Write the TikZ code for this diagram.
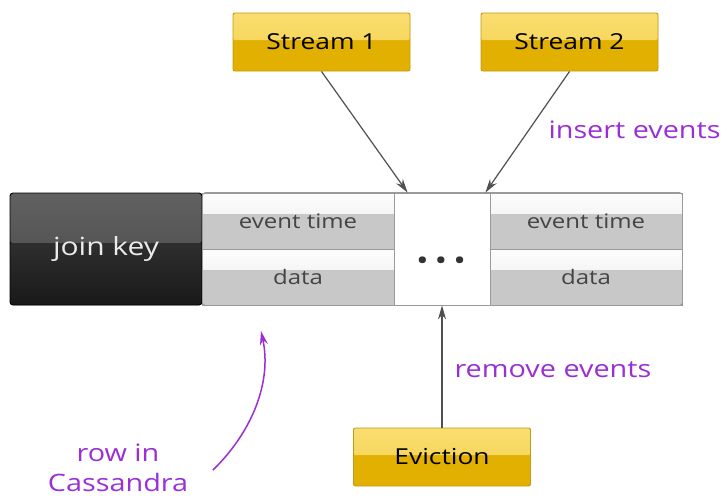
\documentclass[tikz,border=0pt]{standalone}
\usepackage{fontspec}
\setmainfont[FakeStretch=1.2]{Open Sans}
\usetikzlibrary{arrows.meta}
\definecolor{ytop}{HTML}{F9DD70}
\definecolor{ymid}{HTML}{F3D04A}
\definecolor{ybot}{HTML}{E1B000}
\definecolor{yedge}{HTML}{C39A12}
\definecolor{purp}{HTML}{9A2FD6}
\definecolor{arrowgray}{HTML}{505050}
\definecolor{cellgray}{HTML}{C8C8C8}
\definecolor{celledge}{HTML}{9A9A9A}
\definecolor{celltext}{HTML}{444444}
\begin{document}
\begin{tikzpicture}[x=1pt,y=-1pt,
  ybox/.style={draw=yedge, line width=0.9pt, rounded corners=2pt,
    minimum width=177pt, minimum height=58pt, inner sep=0pt, fill=ybot,
    font=\fontsize{22}{24}\selectfont,
    path picture={\shade[top color=ytop, bottom color=ymid]
      (path picture bounding box.north west) rectangle ([yshift=2pt]path picture bounding box.east);}},
  cell/.style={draw=celledge, line width=0.8pt, fill=cellgray,
    minimum width=192pt, minimum height=56pt, inner sep=0pt, text=celltext,
    font=\fontsize{20}{22}\selectfont,
    path picture={\shade[top color=white!96!cellgray, bottom color=white!62!cellgray]
      (path picture bounding box.north west) rectangle ([yshift=8pt]path picture bounding box.east);}},
  keybox/.style={draw=black, line width=0.9pt, rounded corners=3pt, fill=black!88,
    minimum width=192pt, minimum height=112pt, inner sep=0pt, text=white!92!black,
    font=\fontsize{25}{28}\selectfont,
    path picture={
      \shade[top color=black!62, bottom color=black!72]
        (path picture bounding box.north west) rectangle ([yshift=6pt]path picture bounding box.east);
      \shade[top color=black!82, bottom color=black!90]
        ([yshift=6pt]path picture bounding box.west) rectangle (path picture bounding box.south east);}},
  dotbox/.style={draw=celledge, line width=0.8pt, fill=white,
    minimum width=96pt, minimum height=112pt, inner sep=0pt},
  flow/.style={draw=arrowgray, line width=1.2pt, -{Stealth[length=14pt,width=8pt]}},
  note/.style={text=purp, font=\fontsize{24}{30}\selectfont}]

\useasboundingbox (0,0) rectangle (728,498);

% the row: join key, two cells, an open slot, two cells
\node[keybox] (key) at (106,249) {join key};
\node[cell] (t1) at (298,221) {event time};
\node[cell] (d1) at (298,277) {data};
\node[dotbox] (dots) at (442,249) {};
\node[text=black!80, font=\fontsize{28}{28}\selectfont] (ell) at (441,264) {•\hspace{6pt}•\hspace{6pt}•};
\node[cell] (t2) at (586,221) {event time};
\node[cell] (d2) at (586,277) {data};
\draw[celledge, line width=0.8pt, rounded corners=3pt] (key.north east) rectangle (d2.south east);

% sources and eviction
\node[ybox] (s1) at (321.5,42) {Stream 1};
\node[ybox] (s2) at (569.5,42) {Stream 2};
\node[ybox] (ev) at (442,457) {Eviction};

\coordinate (in1) at ([xshift=14pt]dots.north west);
\coordinate (in2) at ([xshift=-5pt]dots.north east);
\draw[flow] (s1.south) -- (in1);
\draw[flow] (s2.south) -- (in2);
\draw[flow] (ev.north) -- (dots.south);

% labels
\node[note, anchor=west] (ins) at (545,130) {insert events};
\node[note, anchor=west] (rem) at (451,370) {remove events};
\node[note, align=center] (row) at (118,468) {row in\\Cassandra};

\coordinate (rowtail) at (213,470);
\coordinate (rowtip) at (261,331);
\draw[purp, line width=1.5pt, -{Stealth[length=14pt,width=8pt]}]
  (rowtail) .. controls (252,432) and (272,382) .. (rowtip);
\end{tikzpicture}
\end{document}
